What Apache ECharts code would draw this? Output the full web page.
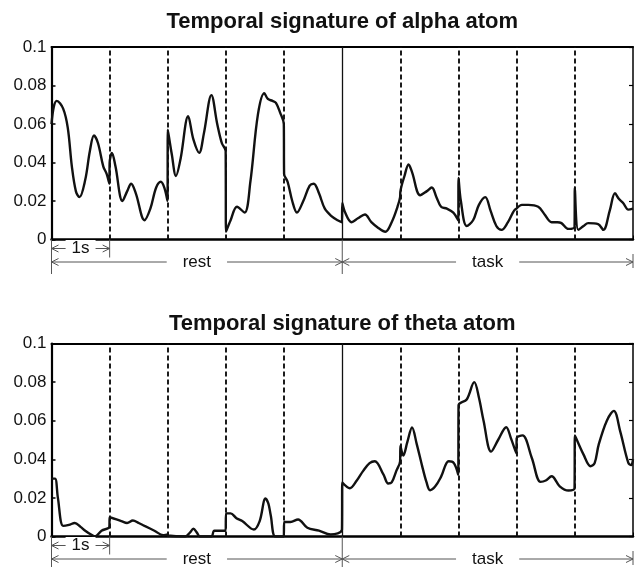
<!DOCTYPE html>
<html><head><meta charset="utf-8">
<script src="https://cdn.jsdelivr.net/npm/echarts@6/dist/echarts.min.js"></script>
<style>html,body{margin:0;padding:0;background:#fff}#c{width:642px;height:567px}</style>
</head><body><div id="c"></div>
<script>
const titles = ['Temporal signature of alpha atom', 'Temporal signature of theta atom'];
const yMin = 0, yMax = 0.1, yStep = 0.02;
const xMin = 0, xMax = 10;
const dashedBoundaries = [1, 2, 3, 4, 6, 7, 8, 9];
const restTaskBoundary = 5;
const spanLabels = ['1s', 'rest', 'task'];

const alphaTime = [0,0.04,0.09,0.2,0.28,0.35,0.42,0.48,0.58,0.66,0.73,0.8,0.89,0.95,0.995,
  1.0,1.04,1.1,1.22,1.3,1.37,1.45,1.6,1.7,1.8,1.88,1.94,1.995,
  2.0,2.07,2.14,2.22,2.35,2.44,2.54,2.62,2.75,2.85,2.93,2.995,
  3.0,3.08,3.19,3.32,3.42,3.55,3.66,3.72,3.8,3.86,3.93,3.995,
  4.0,4.06,4.14,4.22,4.33,4.44,4.51,4.6,4.7,4.82,4.92,4.995,
  5.0,5.05,5.16,5.27,5.39,5.5,5.62,5.74,5.85,5.95,5.995,
  6.0,6.07,6.14,6.2,6.34,6.45,6.54,6.62,6.7,6.8,6.91,6.995,
  7.0,7.04,7.14,7.25,7.35,7.46,7.55,7.65,7.74,7.85,7.995,
  8.0,8.09,8.2,8.37,8.48,8.6,8.7,8.77,8.89,8.995,
  9.0,9.06,9.15,9.23,9.4,9.49,9.6,9.69,9.76,9.83,9.92,10.0];
const alphaValue = [0.060,0.069,0.072,0.068,0.058,0.038,0.025,0.022,0.031,0.046,0.054,0.050,0.038,0.034,0.029,
  0.040,0.045,0.038,0.020,0.025,0.029,0.024,0.010,0.016,0.027,0.030,0.027,0.020,
  0.057,0.044,0.033,0.042,0.064,0.052,0.045,0.055,0.075,0.060,0.050,0.046,
  0.004,0.010,0.017,0.014,0.030,0.065,0.076,0.073,0.072,0.071,0.066,0.060,
  0.034,0.030,0.020,0.014,0.020,0.028,0.029,0.024,0.016,0.012,0.010,0.009,
  0.019,0.014,0.009,0.011,0.013,0.009,0.006,0.004,0.009,0.017,0.022,
  0.025,0.033,0.039,0.035,0.023,0.025,0.027,0.022,0.017,0.016,0.014,0.010,
  0.032,0.020,0.007,0.010,0.018,0.022,0.015,0.007,0.005,0.009,0.016,
  0.016,0.018,0.018,0.017,0.013,0.009,0.009,0.0085,0.0055,0.0065,
  0.027,0.005,0.007,0.0085,0.008,0.005,0.015,0.024,0.021,0.019,0.0155,0.016];

const thetaTime = [0,0.06,0.11,0.2,0.3,0.4,0.5,0.58,0.68,0.75,0.86,0.995,
  1.0,1.2,1.3,1.4,1.5,1.6,1.77,1.92,1.995,
  2.0,2.3,2.38,2.44,2.5,2.55,2.75,2.8,2.995,
  3.0,3.08,3.18,3.28,3.48,3.58,3.68,3.73,3.77,3.85,3.995,
  4.0,4.11,4.24,4.4,4.6,4.8,4.995,
  5.0,5.13,5.25,5.36,5.47,5.56,5.71,5.79,5.85,5.93,5.995,
  6.0,6.05,6.12,6.2,6.28,6.37,6.45,6.51,6.6,6.7,6.83,6.92,6.995,
  7.0,7.14,7.27,7.35,7.43,7.56,7.68,7.82,7.9,7.995,
  8.0,8.1,8.26,8.41,8.5,8.6,8.74,8.89,8.995,
  9.0,9.15,9.27,9.34,9.41,9.55,9.67,9.78,9.92,9.97,10.0];
const thetaValue = [0.030,0.030,0.020,0.0055,0.006,0.007,0.005,0.003,0.001,0,0.003,0.005,
  0.010,0.008,0.007,0.0083,0.007,0.0055,0.003,0.0007,0.001,
  0.0005,0,0.002,0.004,0.002,0,0,0.003,0.003,
  0.012,0.012,0.0095,0.008,0.0036,0.008,0.0197,0.017,0.011,0,0,
  0.0076,0.0075,0.0088,0.0045,0.003,0.001,0.0036,
  0.028,0.025,0.029,0.034,0.038,0.039,0.032,0.0275,0.028,0.034,0.039,
  0.047,0.042,0.049,0.0565,0.048,0.037,0.028,0.024,0.026,0.031,0.039,0.038,0.032,
  0.068,0.071,0.080,0.072,0.060,0.044,0.050,0.0566,0.051,0.043,
  0.051,0.0524,0.0407,0.0283,0.029,0.0312,0.026,0.0238,0.025,
  0.0524,0.0424,0.0364,0.038,0.0476,0.060,0.0651,0.0545,0.0381,0.037,0.040];

const FONT = '"Liberation Sans", Arial, Helvetica, sans-serif';
const grids = [
  {left: 51.5, top: 47, width: 581.5, height: 192.5},
  {left: 51.5, top: 343.5, width: 581.5, height: 193}
];
const panels = [[alphaTime, alphaValue], [thetaTime, thetaValue]];

const chart = echarts.init(document.getElementById('c'), null, {renderer: 'canvas'});

const xAxes = [], yAxes = [], series = [], titleArr = [];
grids.forEach((g, i) => {
  xAxes.push({gridIndex: i, type: 'value', min: xMin, max: xMax, interval: 1, position: 'bottom',
    axisLine: {show: true, onZero: false, lineStyle: {color: '#000', width: 2.5}},
    axisTick: {show: true, inside: true, length: 4, lineStyle: {color: '#000', width: 1}},
    axisLabel: {show: false}, splitLine: {show: false}});
  xAxes.push({gridIndex: i, type: 'value', min: xMin, max: xMax, position: 'top',
    axisLine: {show: true, onZero: false, lineStyle: {color: '#000', width: 2}},
    axisTick: {show: false}, axisLabel: {show: false}, splitLine: {show: false}});
  yAxes.push({gridIndex: i, type: 'value', min: yMin, max: yMax, interval: yStep, position: 'left',
    axisLine: {show: true, onZero: false, lineStyle: {color: '#000', width: 2.2}},
    axisTick: {show: true, inside: true, length: 4, lineStyle: {color: '#000', width: 1.5}},
    axisLabel: {show: true, margin: 5, fontSize: 17, color: '#111', fontFamily: FONT,
      formatter: v => v === 0 ? '0' : String(+v.toFixed(2))},
    splitLine: {show: false}});
  yAxes.push({gridIndex: i, type: 'value', min: yMin, max: yMax, interval: yStep, position: 'right',
    axisLine: {show: true, onZero: false, lineStyle: {color: '#000', width: 1.5}},
    axisTick: {show: true, inside: true, length: 4, lineStyle: {color: '#000', width: 1.2}},
    axisLabel: {show: false}, splitLine: {show: false}});
  const [ts, vs] = panels[i];
  series.push({type: 'line', xAxisIndex: i * 2, yAxisIndex: i * 2,
    data: ts.map((t, k) => [t, vs[k]]), showSymbol: false, smooth: 0.35, animation: false,
    lineStyle: {color: '#111', width: 2.4}, z: 3,
    markLine: {silent: true, symbol: ['none', 'none'], label: {show: false}, animation: false,
      lineStyle: {color: '#111', type: [5, 3], width: 1.9},
      data: dashedBoundaries.map(b => ({xAxis: b})).concat([
        {xAxis: restTaskBoundary, lineStyle: {type: 'solid', width: 1.3, color: '#111'}}])}
  });
  titleArr.push({text: titles[i], left: g.left + g.width / 2, textAlign: 'center',
    top: i === 0 ? 11 : 313, padding: 0,
    textStyle: {fontSize: 22, fontWeight: 'bold', color: '#111', fontFamily: FONT}});
});

chart.setOption({
  animation: false, backgroundColor: '#fff',
  title: titleArr, grid: grids, xAxis: xAxes, yAxis: yAxes, series: series
});

// annotation spans below each panel
const graphics = [];
const GRAY = '#555';
function seg(x1, y1, x2, y2) {
  graphics.push({type: 'line', shape: {x1, y1, x2, y2}, style: {stroke: GRAY, lineWidth: 1}, silent: true, z: 10});
}
function head(x, y, dir) {
  graphics.push({type: 'polyline', shape: {points: [[x - dir * 7, y - 3.5], [x, y], [x - dir * 7, y + 3.5]]},
    style: {stroke: GRAY, lineWidth: 1, fill: null}, silent: true, z: 10});
}
function label(text, x, y, pad) {
  graphics.push({type: 'text', x, y, silent: true, z: 20,
    style: {text, fill: '#111', font: '17px ' + FONT, align: 'center', verticalAlign: 'middle',
      backgroundColor: '#fff', padding: [0, pad]}});
}
grids.forEach((g, i) => {
  const px = v => chart.convertToPixel({xAxisIndex: i * 2}, v);
  const yBase = chart.convertToPixel({yAxisIndex: i * 2}, 0);
  const x0 = px(0), x1 = px(1), x5 = px(restTaskBoundary), x10 = px(10);
  const y1 = yBase + 9, y2 = yBase + 22.5;
  seg(x0, yBase, x0, y2 + 12);
  seg(x1, yBase, x1, y1 + 9);
  seg(x5, yBase, x5, y2 + 12);
  seg(x10, y2 - 8, x10, y2 + 6);
  seg(x0, y1, x1, y1); head(x0, y1, -1); head(x1, y1, 1);
  label(spanLabels[0], (x0 + x1) / 2, y1, 6);
  seg(x0, y2, x5, y2); head(x0, y2, -1); head(x5, y2, 1);
  label(spanLabels[1], (x0 + x5) / 2, y2, 16);
  seg(x5, y2, x10, y2); head(x5, y2, -1); head(x10, y2, 1);
  label(spanLabels[2], (x5 + x10) / 2, y2, 16);
});
chart.setOption({graphic: graphics});
</script></body></html>
